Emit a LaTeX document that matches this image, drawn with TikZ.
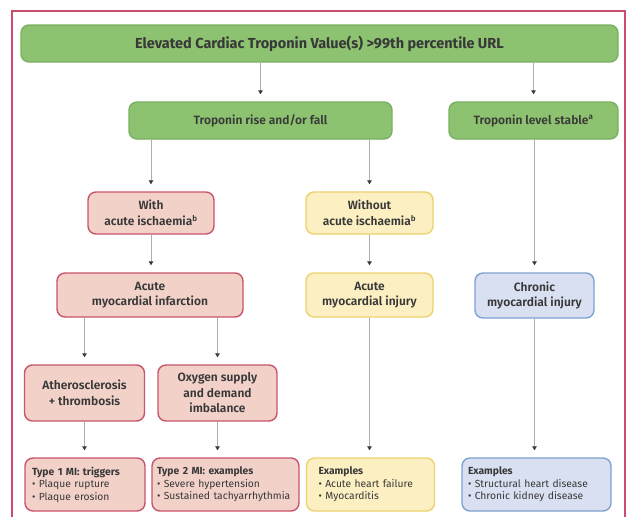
\documentclass[tikz,border=0pt]{standalone}
\usepackage{fontspec}
\setmainfont{Fira Sans}
\newfontfamily\semifont{Fira Sans SemiBold}
\usetikzlibrary{calc}
\usetikzlibrary{arrows.meta}
\definecolor{myframe}{rgb}{0.80,0.30,0.43}
\definecolor{mygreen}{rgb}{0.55,0.76,0.44}
\definecolor{mygreenline}{rgb}{0.48,0.69,0.38}
\definecolor{myred}{rgb}{0.95,0.82,0.79}
\definecolor{myredline}{rgb}{0.78,0.33,0.42}
\definecolor{myyellow}{rgb}{0.99,0.94,0.76}
\definecolor{myyellowline}{rgb}{0.93,0.82,0.43}
\definecolor{myblue}{rgb}{0.85,0.88,0.95}
\definecolor{myblueline}{rgb}{0.50,0.63,0.82}
\definecolor{mytext}{rgb}{0.22,0.22,0.22}
\definecolor{myarrow}{rgb}{0.68,0.68,0.68}

\begin{document}
\begin{tikzpicture}[%
  x=1pt, y=-1pt,
  >={Triangle[width=4.5pt,length=4pt,color=mytext]},
  flow/.style={->, draw=myarrow, line width=1pt, shorten >=7pt},
  base/.style={rounded corners=8pt, line width=1.4pt, inner sep=0pt,
    align=center, text=mytext, font=\semifont\fontsize{12}{15.5}\selectfont},
  greenbox/.style={base, fill=mygreen, draw=mygreenline},
  redbox/.style={base, fill=myred, draw=myredline},
  yellowbox/.style={base, fill=myyellow, draw=myyellowline},
  bluebox/.style={base, fill=myblue, draw=myblueline},
  listbox/.style={align=left, font=\fontsize{10.3}{12.5}\selectfont, inner xsep=7pt},
]

  \useasboundingbox (0,0) rectangle (627,517);

  % frame
  \draw[myframe, line width=1.5pt] (12,517) -- (12,11) -- (625,11) -- (625,517);

  % first level
  \node[greenbox, minimum width=597, minimum height=37, font=\fontsize{14.5}{15}\selectfont\bfseries]
    (top) at (319.5,43.5) {Elevated Cardiac Troponin Value(s) >99th percentile URL};

  \node[greenbox, minimum width=263, minimum height=37] (rise) at (260.5,120.5)
    {Troponin rise and/or fall};
  \node[greenbox, minimum width=169, minimum height=37] (stable) at (533.5,120.5)
    {Troponin level stable\textsuperscript{a}};

  % ischaemia
  \node[redbox, minimum width=126, minimum height=42] (with) at (151,213)
    {With\\acute ischaemia\textsuperscript{b}};
  \node[yellowbox, minimum width=127, minimum height=42] (without) at (369.5,213)
    {Without\\acute ischaemia\textsuperscript{b}};

  % diagnosis
  \node[redbox, minimum width=186, minimum height=44] (mi) at (150,295)
    {Acute\\myocardial infarction};
  \node[yellowbox, minimum width=127, minimum height=44] (injury) at (369.5,295)
    {Acute\\myocardial injury};
  \node[bluebox, minimum width=119, minimum height=45] (chronic) at (534.5,295.5)
    {Chronic\\myocardial injury};

  % mechanism
  \node[redbox, minimum width=120, minimum height=56] (athero) at (84.5,393)
    {Atherosclerosis\\+ thrombosis};
  \node[redbox, minimum width=119, minimum height=56] (oxygen) at (217.5,393)
    {Oxygen supply\\and demand\\imbalance};

  % examples
  \node[redbox, listbox, minimum width=120, minimum height=53, text width=106] (type1) at (85,484.5)
    {\textbf{Type 1 MI: triggers}\\• Plaque rupture\\• Plaque erosion};
  \node[redbox, listbox, minimum width=147, minimum height=53, inner xsep=5pt, text width=137] (type2) at (225.5,484.5)
    {\textbf{Type 2 MI: examples}\\• Severe hypertension\\• Sustained tachyarrhythmia};
  \node[yellowbox, listbox, minimum width=128, minimum height=53, inner xsep=12pt, text width=104] (exy) at (370.5,484.5)
    {\textbf{Examples}\\• Acute heart failure\\• Myocarditis};
  \node[bluebox, listbox, minimum width=149, minimum height=53, inner xsep=6pt, text width=137] (exb) at (536.5,484.5)
    {\textbf{Examples}\\• Structural heart disease\\• Chronic kidney disease};

  % arrows
  \draw[flow] (top.south -| rise.north) -- (rise.north);
  \draw[flow] (top.south -| stable.north) -- (stable.north);

  \draw[flow] (rise.south -| with.north) -- (with.north);
  \draw[flow] (rise.south -| without.north) -- (without.north);
  \draw[flow] (stable.south -| chronic.north) -- (chronic.north);

  \draw[flow] (with.south) -- (with.south |- mi.north);
  \draw[flow] (without.south) -- (without.south |- injury.north);

  \draw[flow] (mi.south -| athero.north) -- (athero.north);
  \draw[flow] (mi.south -| oxygen.north) -- (oxygen.north);

  \draw[flow] (athero.south) -- (athero.south |- type1.north);
  \draw[flow] (oxygen.south) -- (oxygen.south |- type2.north);
  \draw[flow] (injury.south) -- (injury.south |- exy.north);
  \draw[flow] (chronic.south) -- (chronic.south |- exb.north);

\end{tikzpicture}
\end{document}
